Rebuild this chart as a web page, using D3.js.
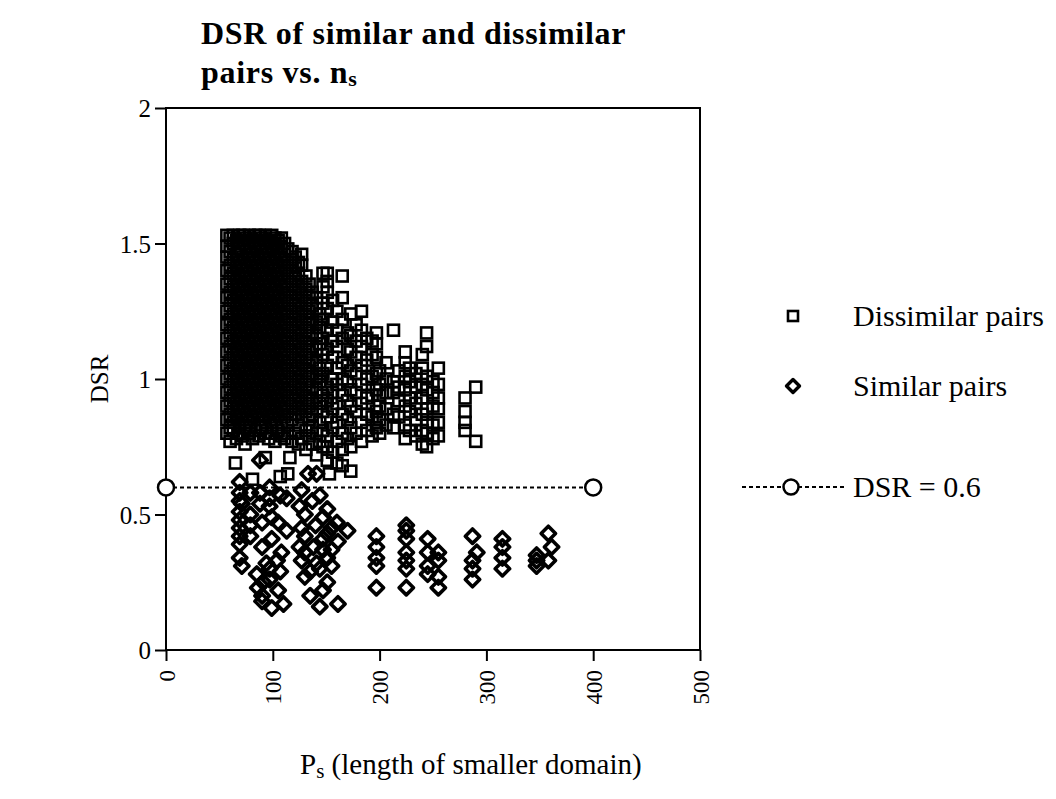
<!DOCTYPE html>
<html>
<head>
<meta charset="utf-8">
<script src="https://cdn.jsdelivr.net/npm/d3@7"></script>
<style>
  html, body { margin: 0; padding: 0; background: #fff; }
  svg text { font-family: "Liberation Serif", "Times New Roman", serif; fill: #000; }
</style>
</head>
<body>
<svg id="chart" width="1056" height="799"></svg>
<script>
// ---------------- data ----------------
const titleLines = ["DSR of similar and dissimilar", "pairs vs. n"];
const xTicks = [0, 100, 200, 300, 400, 500];
const yTicks = [0, 0.5, 1, 1.5, 2];
const yTickLabels = ["0", "0.5", "1", "1.5", "2"];
const legendLabels = ["Dissimilar pairs", "Similar pairs", "DSR = 0.6"];
const refLine = [[0, 0.6], [400, 0.6]];

// Dissimilar pairs: [domain length, DSR values]
const dissimilarColumns = [
  [57, [0.80,0.85,0.90,0.95,1.00,1.05,1.10,1.15,1.20,1.25,1.30,1.35,1.40,1.45,1.49,1.53]],
  [60, [0.77,0.82,0.87,0.92,0.97,1.02,1.07,1.12,1.17,1.22,1.27,1.32,1.37,1.42,1.47,1.52]],
  [63, [0.81,0.84,0.89,0.94,0.99,1.04,1.09,1.14,1.19,1.24,1.29,1.34,1.39,1.44,1.50,1.53]],
  [65, [0.69]],
  [66, [0.78,0.86,0.91,0.96,1.01,1.06,1.11,1.16,1.21,1.26,1.31,1.36,1.41,1.46,1.51]],
  [69, [0.80,0.83,0.88,0.93,0.98,1.03,1.08,1.13,1.18,1.23,1.28,1.33,1.38,1.43,1.48,1.53]],
  [72, [0.79,0.85,0.90,0.95,1.00,1.05,1.10,1.15,1.20,1.25,1.30,1.35,1.40,1.45,1.50,1.53]],
  [74, [0.76]],
  [75, [0.82,0.87,0.92,0.97,1.02,1.07,1.12,1.17,1.22,1.27,1.32,1.37,1.42,1.47,1.52]],
  [78, [0.80,0.84,0.89,0.94,0.99,1.04,1.09,1.14,1.19,1.24,1.29,1.34,1.39,1.44,1.49,1.53]],
  [81, [0.63,0.78,0.86,0.91,0.96,1.01,1.06,1.11,1.16,1.21,1.26,1.31,1.36,1.41,1.46,1.51]],
  [84, [0.81,0.88,0.93,0.98,1.03,1.08,1.13,1.18,1.23,1.28,1.33,1.38,1.43,1.48,1.53]],
  [87, [0.79,0.85,0.90,0.95,1.00,1.05,1.10,1.15,1.20,1.25,1.30,1.35,1.40,1.45,1.50,1.53]],
  [90, [0.82,0.87,0.92,0.97,1.02,1.07,1.12,1.17,1.22,1.27,1.32,1.37,1.42,1.47,1.52]],
  [93, [0.71,0.80,0.84,0.89,0.94,0.99,1.04,1.09,1.14,1.19,1.24,1.29,1.34,1.39,1.44,1.49,1.53]],
  [96, [0.78,0.86,0.91,0.96,1.01,1.06,1.11,1.16,1.21,1.26,1.31,1.36,1.41,1.46,1.51]],
  [99, [0.80,0.83,0.88,0.93,0.98,1.03,1.08,1.13,1.18,1.23,1.28,1.33,1.38,1.43,1.48,1.53]],
  [102, [0.77,0.85,0.90,0.95,1.00,1.05,1.10,1.15,1.20,1.25,1.30,1.35,1.40,1.45,1.50,1.52]],
  [105, [0.81,0.87,0.92,0.97,1.02,1.07,1.12,1.17,1.22,1.27,1.32,1.37,1.42,1.47,1.51]],
  [107, [0.64]],
  [108, [0.79,0.84,0.89,0.94,0.99,1.04,1.09,1.14,1.19,1.24,1.29,1.34,1.39,1.44,1.49,1.52]],
  [111, [0.78,0.86,0.91,0.96,1.01,1.06,1.11,1.16,1.21,1.26,1.31,1.36,1.41,1.46,1.50]],
  [114, [0.65,0.80,0.83,0.88,0.93,0.98,1.03,1.08,1.13,1.18,1.23,1.28,1.33,1.38,1.43,1.48]],
  [116, [0.71]],
  [118, [0.77,0.85,0.90,0.95,1.00,1.05,1.10,1.15,1.20,1.25,1.30,1.35,1.40,1.44,1.47]],
  [121, [0.80,0.87,0.92,0.97,1.02,1.07,1.12,1.17,1.22,1.27,1.32,1.37,1.42,1.45]],
  [124, [0.76,0.83,0.89,0.94,0.99,1.04,1.09,1.14,1.19,1.24,1.29,1.34,1.39,1.43]],
  [127, [0.78,0.86,0.91,0.96,1.01,1.06,1.11,1.16,1.21,1.26,1.31,1.36,1.42,1.46]],
  [131, [0.74,0.81,0.88,0.93,0.98,1.03,1.08,1.13,1.18,1.23,1.28,1.33,1.38]],
  [134, [0.79,0.85,0.90,0.95,1.00,1.05,1.10,1.15,1.20,1.25,1.30,1.35]],
  [137, [0.76,0.82,0.87,0.92,0.97,1.02,1.07,1.12,1.17,1.22,1.27,1.32]],
  [141, [0.72,0.80,0.89,0.96,1.01,1.06,1.11,1.16,1.21,1.26,1.30]],
  [144, [0.77,0.84,0.91,0.99,1.04,1.13,1.19,1.24]],
  [147, [0.75,0.81,0.88,0.94,1.02,1.09,1.15,1.22,1.28,1.34,1.39]],
  [151, [0.70,0.75,0.79,0.86,0.92,0.97,1.05,1.11,1.18,1.26,1.32,1.36,1.39]],
  [153, [0.65]],
  [156, [0.73,0.82,0.89,0.95,1.00,1.08,1.14,1.21,1.29]],
  [160, [0.69,0.77,0.84,0.91,0.98,1.04,1.12,1.18,1.25]],
  [165, [0.68,0.74,0.80,0.87,0.94,1.00,1.06,1.15,1.22,1.30,1.38]],
  [170, [0.78,0.85,0.92,0.99,1.05,1.11,1.17]],
  [173, [0.66,0.75,0.82,0.90,0.96,1.03,1.10,1.16,1.24]],
  [178, [0.80,0.88,0.95,1.02,1.08,1.14,1.20]],
  [183, [0.77,0.84,0.91,0.98,1.05,1.12,1.18,1.25]],
  [188, [0.81,0.87,0.93,1.00,1.07,1.15]],
  [193, [0.79,0.86,0.94,1.01,1.09,1.14]],
  [197, [0.82,0.88,0.96,1.02,1.08,1.13,1.17]],
  [200, [0.80,0.85,0.90,0.94,0.98,1.03]],
  [206, [0.83,0.89,0.95,1.00,1.06]],
  [213, [0.82,0.87,0.95,0.99,1.18]],
  [218, [0.86,0.92,0.97,1.03]],
  [224, [0.78,0.83,0.90,0.96,1.01,1.06,1.10]],
  [228, [0.81,0.88,0.93,0.99,1.04]],
  [234, [0.79,0.85,0.91,0.97,1.02]],
  [240, [0.76,0.81,0.87,0.93,0.98,1.04,1.09]],
  [244, [0.75,0.80,0.84,0.89,0.96,1.01,1.12,1.17]],
  [250, [0.78,0.83,0.90,0.95,0.99]],
  [255, [0.79,0.84,0.89,0.93,0.98,1.04]],
  [280, [0.81,0.84,0.88,0.93]],
  [290, [0.77,0.97]]
];

// Similar pairs: [domain length, DSR values]
const similarColumns = [
  [69, [0.62,0.58,0.55,0.51,0.48,0.45,0.42,0.39,0.34]],
  [71, [0.54,0.31]],
  [79, [0.58,0.50,0.46,0.42]],
  [85, [0.28]],
  [86, [0.23]],
  [88, [0.70,0.58,0.54]],
  [90, [0.47,0.38,0.20,0.18]],
  [91, [0.25]],
  [94, [0.32]],
  [97, [0.60,0.56,0.53,0.30,0.26]],
  [99, [0.49,0.41,0.155]],
  [104, [0.33]],
  [105, [0.47,0.22]],
  [107, [0.57,0.29]],
  [108, [0.36]],
  [110, [0.17]],
  [113, [0.56,0.44]],
  [125, [0.53,0.38]],
  [127, [0.59,0.45,0.33]],
  [130, [0.50,0.42,0.36,0.27]],
  [133, [0.65]],
  [135, [0.29,0.20]],
  [137, [0.55]],
  [138, [0.38]],
  [140, [0.46]],
  [141, [0.65,0.32]],
  [144, [0.57,0.30,0.16]],
  [147, [0.49,0.41,0.37,0.22]],
  [151, [0.52,0.43,0.34,0.25]],
  [155, [0.45,0.37,0.31]],
  [160, [0.47]],
  [161, [0.40,0.17]],
  [170, [0.44]],
  [197, [0.42,0.38,0.34,0.31,0.23]],
  [225, [0.46,0.44,0.41,0.36,0.33,0.30,0.23]],
  [245, [0.41,0.36,0.31,0.28]],
  [255, [0.36,0.33,0.27,0.23]],
  [287, [0.42,0.33,0.30,0.26]],
  [291, [0.36]],
  [315, [0.41,0.38,0.34,0.30]],
  [347, [0.35,0.33,0.31]],
  [358, [0.43,0.33]],
  [361, [0.38]]
];

// ---------------- chart ----------------
const svg = d3.select("#chart");
const W = 1056, H = 799;
svg.append("rect").attr("width", W).attr("height", H).attr("fill", "#fff");

const plot = { left: 166, right: 700, top: 108, bottom: 650 };
const x = d3.scaleLinear().domain([0, 500]).range([plot.left, plot.right]);
const y = d3.scaleLinear().domain([0, 2]).range([plot.bottom, plot.top]);

const flatten = cols => cols.flatMap(([n, ys]) => ys.map(v => ({ n, v })));
const dissimilar = flatten(dissimilarColumns);
const similar = flatten(similarColumns);

// Title
const title = svg.append("text")
  .attr("x", 201).attr("y", 44)
  .style("font-weight", "bold").style("font-size", "32px").style("letter-spacing", "0.7px");
title.append("tspan").text(titleLines[0]);
const t2 = svg.append("text")
  .attr("x", 201).attr("y", 83)
  .style("font-weight", "bold").style("font-size", "32px").style("letter-spacing", "0.7px");
t2.append("tspan").text(titleLines[1]);
t2.append("tspan").attr("dy", 3).style("font-size", "22px").text("s");

// Axes
const yAxis = d3.axisLeft(y).tickValues(yTicks)
  .tickFormat((d, i) => yTickLabels[i]).tickSize(11).tickPadding(4);
const gy = svg.append("g").attr("transform", `translate(${plot.left},0)`).call(yAxis);
gy.select(".domain").remove();
gy.selectAll(".tick line").attr("stroke", "#000").attr("stroke-width", 2);
gy.selectAll(".tick text").style("font-size", "25px")
  .style("font-family", '"Liberation Serif", serif').attr("dy", "0.35em");

const xAxis = d3.axisBottom(x).tickValues(xTicks).tickFormat(d3.format("d")).tickSize(11).tickPadding(6);
const gx = svg.append("g").attr("transform", `translate(0,${plot.bottom})`).call(xAxis);
gx.select(".domain").remove();
gx.selectAll(".tick line").attr("stroke", "#000").attr("stroke-width", 2);
gx.selectAll(".tick text")
  .style("font-size", "23px").style("font-family", '"Liberation Serif", serif')
  .attr("transform", "rotate(-90)")
  .attr("text-anchor", "end")
  .attr("x", -20).attr("y", 0).attr("dy", "0.35em");

// Frame
svg.append("rect")
  .attr("x", plot.left).attr("y", plot.top)
  .attr("width", plot.right - plot.left).attr("height", plot.bottom - plot.top)
  .attr("fill", "none").attr("stroke", "#000").attr("stroke-width", 2);

// Markers
const sq = 11;
svg.append("g").selectAll("rect").data(dissimilar).join("rect")
  .attr("x", d => x(d.n) - sq / 2).attr("y", d => y(d.v) - sq / 2)
  .attr("width", sq).attr("height", sq)
  .attr("fill", "none").attr("stroke", "#000").attr("stroke-width", 2.6);

const diamond = (cx, cy, r) => `M${cx},${cy - r}L${cx + r},${cy}L${cx},${cy + r}L${cx - r},${cy}Z`;
svg.append("g").selectAll("path").data(similar).join("path")
  .attr("d", d => diamond(x(d.n), y(d.v), 7.2))
  .attr("fill", "none").attr("stroke", "#000").attr("stroke-width", 3.6)
  .attr("stroke-linejoin", "round");

// Reference line DSR = 0.6
svg.append("path")
  .attr("d", d3.line().x(d => x(d[0])).y(d => y(d[1]))(refLine))
  .attr("fill", "none").attr("stroke", "#000").attr("stroke-width", 2)
  .attr("stroke-dasharray", "4,3");
svg.append("g").selectAll("circle").data(refLine).join("circle")
  .attr("cx", d => x(d[0])).attr("cy", d => y(d[1])).attr("r", 8)
  .attr("fill", "#fff").attr("stroke", "#000").attr("stroke-width", 2.5);

// Axis labels
svg.append("text")
  .attr("transform", `translate(108,${y(1)}) rotate(-90)`)
  .attr("text-anchor", "middle").style("font-size", "25px").text("DSR");
const xl = svg.append("text").attr("x", 300).attr("y", 774).style("font-size", "29px");
xl.append("tspan").text("P");
xl.append("tspan").attr("dy", 4).style("font-size", "21px").text("s");
xl.append("tspan").attr("dy", -4).text(" (length of smaller domain)");

// Legend
const lg = svg.append("g");
const lgX = 793, lgText = 853, lgY = [316, 386, 487];
lg.append("rect").attr("x", lgX - 5).attr("y", lgY[0] - 5).attr("width", 10).attr("height", 10)
  .attr("fill", "none").attr("stroke", "#000").attr("stroke-width", 2.6);
lg.append("path").attr("d", diamond(lgX, lgY[1], 6.5))
  .attr("fill", "none").attr("stroke", "#000").attr("stroke-width", 3.4).attr("stroke-linejoin", "round");
lg.append("line").attr("x1", 742).attr("x2", 846).attr("y1", lgY[2]).attr("y2", lgY[2])
  .attr("stroke", "#000").attr("stroke-width", 2).attr("stroke-dasharray", "4,3");
lg.append("circle").attr("cx", 791).attr("cy", lgY[2]).attr("r", 7.5)
  .attr("fill", "#fff").attr("stroke", "#000").attr("stroke-width", 2.5);
lg.selectAll("text.lab").data(legendLabels).join("text").attr("class", "lab")
  .attr("x", lgText).attr("y", (d, i) => lgY[i] + 10)
  .style("font-size", "30px").text(d => d);
</script>
</body>
</html>
